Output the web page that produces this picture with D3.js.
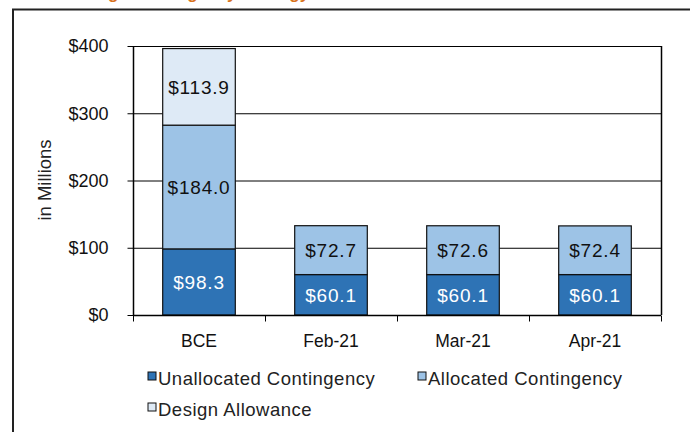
<!DOCTYPE html>
<html>
<head>
<meta charset="utf-8">
<script src="https://cdn.jsdelivr.net/npm/d3@7"></script>
<style>
body { margin: 0; background: #fff; }
text { font-family: "Liberation Sans", Arial, sans-serif; }
</style>
</head>
<body>
<svg id="chart"></svg>
<script>
// datos
var categories = ['BCE', 'Feb-21', 'Mar-21', 'Apr-21'],
	unallocated = [98.3, 60.1, 60.1, 60.1],
	allocated = [184.0, 72.7, 72.6, 72.4],
	designAllow = [113.9, 0, 0, 0],
	yTicks = [0, 100, 200, 300, 400],
	seriesNames = ['Unallocated Contingency', 'Allocated Contingency', 'Design Allowance'],
	colors = ['#2e73b5', '#9dc3e6', '#deeaf6'],
	labelColors = ['#fff', '#111', '#111'];

var w = 690, h = 432,
	mL = 133, mR = 661, mT = 46, mB = 315,
	svg = d3.select('svg').attr('width', w).attr('height', h);

// titulo cortado arriba
svg.append('text')
	.attr('x', 72).attr('y', -0.8)
	.attr('fill', '#d9731c')
	.attr('font-size', 17).attr('font-weight', 'bold')
	.text('Design Contingency Strategy');

// marco exterior
svg.append('rect')
	.attr('x', 13).attr('y', 9.5).attr('width', 700).attr('height', 440)
	.attr('fill', 'none').attr('stroke', '#222').attr('stroke-width', 2);

var x = d3.scaleBand().domain(categories).range([mL, mR]).paddingInner(0.45).paddingOuter(0.225);
var xb = d3.scaleBand().domain(categories).range([mL, mR]);
var y = d3.scaleLinear().domain([0, 400]).range([mB, mT]);

// lineas de la rejilla
svg.selectAll('.grid').data(yTicks.slice(1)).enter().append('line')
	.attr('x1', mL).attr('x2', mR)
	.attr('y1', function(d){ return y(d) + 0.5 }).attr('y2', function(d){ return y(d) + 0.5 })
	.attr('stroke', '#000').attr('stroke-width', 1);
svg.append('line')
	.attr('x1', mR + 0.5).attr('x2', mR + 0.5).attr('y1', mT).attr('y2', mB)
	.attr('stroke', '#000').attr('stroke-width', 1.5);

// barras apiladas
var table = categories.map(function(c, i){
	return { cat: c, u: unallocated[i], a: allocated[i], d: designAllow[i] };
});
var stack = d3.stack().keys(['u', 'a', 'd'])(table);

stack.forEach(function(layer, k){
	var g = svg.append('g');
	var datos = layer.filter(function(d){ return d[1] - d[0] > 0 });
	g.selectAll('rect').data(datos).enter().append('rect')
		.attr('x', function(d){ return x(d.data.cat) })
		.attr('y', function(d){ return y(d[1]) })
		.attr('width', x.bandwidth())
		.attr('height', function(d){ return y(d[0]) - y(d[1]) })
		.attr('fill', colors[k]).attr('stroke', '#111').attr('stroke-width', 1.2);
	g.selectAll('text').data(datos).enter().append('text')
		.attr('x', function(d){ return x(d.data.cat) + x.bandwidth() / 2 })
		.attr('y', function(d){ return (y(d[0]) + y(d[1])) / 2 })
		.attr('dy', '0.36em')
		.attr('text-anchor', 'middle')
		.attr('font-size', 19).attr('letter-spacing', 0.8)
		.attr('fill', labelColors[k])
		.text(function(d){ return '$' + (d[1] - d[0]).toFixed(1) });
});

// ejes
var yAxis = d3.axisLeft(y).tickValues(yTicks).tickSize(6).tickPadding(19)
	.tickFormat(function(d){ return '$' + d });
var ga = svg.append('g').attr('transform', 'translate(' + (mL + 0.5) + ',0)').call(yAxis);
ga.select('.domain').attr('d', 'M0,' + mT + 'V' + mB).attr('stroke', '#000').attr('stroke-width', 1.5);
ga.selectAll('line').attr('stroke', '#000');
ga.selectAll('text').attr('font-size', 18).attr('fill', '#111');

var gx = svg.append('g').attr('transform', 'translate(0,' + (mB + 0.5) + ')');
gx.append('line').attr('x1', mL).attr('x2', mR).attr('stroke', '#000').attr('stroke-width', 1.5);
gx.selectAll('.tk').data(categories.concat(['end'])).enter().append('line')
	.attr('x1', function(d, i){ return mL + i * xb.bandwidth() + 0.5 })
	.attr('x2', function(d, i){ return mL + i * xb.bandwidth() + 0.5 })
	.attr('y1', 0).attr('y2', 6).attr('stroke', '#000');
gx.selectAll('text').data(categories).enter().append('text')
	.attr('x', function(d){ return xb(d) + xb.bandwidth() / 2 })
	.attr('y', 31)
	.attr('text-anchor', 'middle').attr('font-size', 17.5).attr('fill', '#111')
	.text(function(d){ return d });

svg.append('text')
	.attr('transform', 'translate(51,180) rotate(-90)')
	.attr('text-anchor', 'middle').attr('font-size', 18.5).attr('fill', '#222')
	.text('in Millions');

// leyenda
var legPos = [[148, 372], [418, 372], [148, 403]];
seriesNames.forEach(function(n, i){
	svg.append('rect')
		.attr('x', legPos[i][0]).attr('y', legPos[i][1])
		.attr('width', 8).attr('height', 8)
		.attr('fill', colors[i]).attr('stroke', '#111');
	svg.append('text')
		.attr('x', legPos[i][0] + 10).attr('y', legPos[i][1] + 13)
		.attr('font-size', 18.5).attr('letter-spacing', 0.5).attr('fill', '#222')
		.text(n);
});
</script>
</body>
</html>
